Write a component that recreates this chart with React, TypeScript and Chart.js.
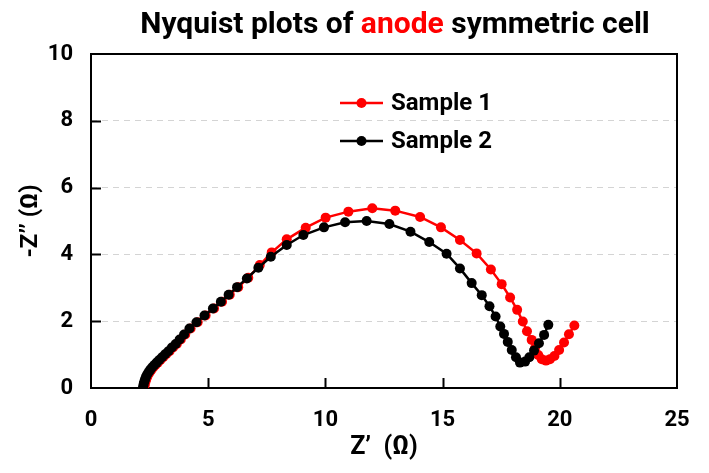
import React, { useEffect, useRef } from 'react';
import { Chart, registerables } from 'chart.js';

Chart.register(...registerables);

// Sample 1 (red): Z' and -Z'' in ohm
const sample1Re = [2.27, 2.28, 2.30, 2.33, 2.36, 2.40, 2.45, 2.51, 2.58, 2.66, 2.75, 2.85, 2.96, 3.08, 3.21, 3.35, 3.50, 3.66, 3.83, 4.02, 4.25, 4.55, 4.89, 5.25, 5.59, 5.92, 6.28, 6.71, 7.20, 7.71, 8.35, 9.16, 10.01, 10.98, 12.00, 12.98, 14.04, 14.93, 15.74, 16.45, 17.06, 17.52, 17.88, 18.18, 18.42, 18.60, 18.80, 18.94, 19.08, 19.23, 19.41, 19.58, 19.77, 19.97, 20.18, 20.39, 20.62];
const sample1Im = [0.00, 0.06, 0.13, 0.20, 0.27, 0.34, 0.41, 0.48, 0.55, 0.62, 0.69, 0.76, 0.84, 0.92, 1.01, 1.10, 1.21, 1.32, 1.45, 1.60, 1.78, 1.97, 2.17, 2.38, 2.58, 2.79, 3.02, 3.30, 3.68, 4.06, 4.45, 4.80, 5.10, 5.28, 5.38, 5.31, 5.12, 4.81, 4.43, 4.03, 3.55, 3.11, 2.71, 2.34, 1.99, 1.70, 1.44, 1.19, 0.99, 0.86, 0.82, 0.86, 0.96, 1.14, 1.36, 1.61, 1.87];

// Sample 2 (black)
const sample2Re = [2.22, 2.23, 2.25, 2.28, 2.31, 2.35, 2.40, 2.46, 2.53, 2.61, 2.70, 2.80, 2.91, 3.03, 3.16, 3.30, 3.45, 3.61, 3.78, 3.97, 4.20, 4.50, 4.84, 5.20, 5.54, 5.87, 6.23, 6.65, 7.14, 7.67, 8.35, 9.06, 9.94, 10.84, 11.76, 12.73, 13.63, 14.43, 15.17, 15.74, 16.24, 16.67, 17.00, 17.26, 17.46, 17.62, 17.78, 17.95, 18.13, 18.30, 18.52, 18.70, 18.90, 19.11, 19.33, 19.51];
const sample2Im = [0.00, 0.06, 0.13, 0.20, 0.27, 0.34, 0.41, 0.48, 0.55, 0.62, 0.69, 0.76, 0.84, 0.92, 1.01, 1.10, 1.21, 1.32, 1.45, 1.60, 1.78, 1.97, 2.17, 2.38, 2.58, 2.79, 3.02, 3.28, 3.60, 3.93, 4.28, 4.58, 4.81, 4.96, 5.00, 4.91, 4.68, 4.37, 4.02, 3.58, 3.14, 2.78, 2.45, 2.14, 1.84, 1.62, 1.38, 1.14, 0.92, 0.76, 0.79, 0.92, 1.12, 1.34, 1.59, 1.89];

const xTicks = [0, 5, 10, 15, 20, 25];
const yTicks = [0, 2, 4, 6, 8, 10];
const seriesNames = ['Sample 1', 'Sample 2'];
const seriesColors = ['#ff0000', '#000000'];
const titleParts = [
  { text: 'Nyquist plots of ', color: '#000000' },
  { text: 'anode', color: '#ff0000' },
  { text: ' symmetric cell', color: '#000000' },
];

const FONT = 'Roboto, "Liberation Sans", sans-serif';

const decorPlugin = {
  id: 'decor',
  beforeDatasetsDraw(chart: any) {
    const { ctx, chartArea: a, scales } = chart;
    ctx.save();
    ctx.strokeStyle = '#000';
    ctx.lineWidth = 2;
    ctx.strokeRect(a.left, a.top, a.right - a.left, a.bottom - a.top);
    ctx.beginPath();
    xTicks.slice(1, -1).forEach((v) => {
      const px = Math.round(scales.x.getPixelForValue(v)) + 0.5;
      ctx.moveTo(px, a.bottom);
      ctx.lineTo(px, a.bottom - 10);
    });
    yTicks.slice(1, -1).forEach((v) => {
      const py = Math.round(scales.y.getPixelForValue(v)) + 0.5;
      ctx.moveTo(a.left, py);
      ctx.lineTo(a.left + 10, py);
    });
    ctx.stroke();
    ctx.restore();
  },
  afterDraw(chart: any) {
    const { ctx } = chart;
    ctx.save();
    // title
    ctx.font = `bold 30px ${FONT}`;
    ctx.textBaseline = 'alphabetic';
    ctx.textAlign = 'left';
    const total = titleParts.reduce((s, p) => s + ctx.measureText(p.text).width, 0);
    let x = 395 - total / 2;
    titleParts.forEach((p) => {
      ctx.fillStyle = p.color;
      ctx.fillText(p.text, x, 33);
      x += ctx.measureText(p.text).width;
    });
    // legend
    const rows = [103, 141];
    ctx.textBaseline = 'middle';
    rows.forEach((y, i) => {
      ctx.strokeStyle = seriesColors[i];
      ctx.fillStyle = seriesColors[i];
      ctx.lineWidth = 2.5;
      ctx.beginPath();
      ctx.moveTo(340, y);
      ctx.lineTo(383, y);
      ctx.stroke();
      ctx.beginPath();
      ctx.arc(361.5, y, 5, 0, Math.PI * 2);
      ctx.fill();
      ctx.fillStyle = '#000';
      ctx.font = `bold 24px ${FONT}`;
      ctx.fillText(seriesNames[i], 391, y + 1);
    });
    ctx.restore();
  },
};

export default function App() {
  const ref = useRef<HTMLCanvasElement | null>(null);
  useEffect(() => {
    if (!ref.current) return;
    const mk = (re: number[], im: number[]) => re.map((v, i) => ({ x: v, y: im[i] }));
    const chart = new Chart(ref.current, {
      type: 'scatter',
      data: {
        datasets: [
          {
            label: seriesNames[0],
            data: mk(sample1Re, sample1Im),
            showLine: true,
            borderColor: seriesColors[0],
            backgroundColor: seriesColors[0],
            borderWidth: 2.5,
            pointRadius: 5,
            pointBorderWidth: 0,
            pointBackgroundColor: seriesColors[0],
            order: 2,
          },
          {
            label: seriesNames[1],
            data: mk(sample2Re, sample2Im),
            showLine: true,
            borderColor: seriesColors[1],
            backgroundColor: seriesColors[1],
            borderWidth: 2.5,
            pointRadius: 5,
            pointBorderWidth: 0,
            pointBackgroundColor: seriesColors[1],
            order: 1,
          },
        ],
      },
      options: {
        animation: false,
        responsive: true,
        maintainAspectRatio: false,
        layout: { padding: { top: 54, right: 32, left: 0, bottom: 0 } },
        plugins: { legend: { display: false }, title: { display: false }, tooltip: { enabled: false } },
        scales: {
          x: {
            type: 'linear',
            min: 0,
            max: 25,
            afterFit: (s: any) => { s.height = 85; },
            afterBuildTicks: (s: any) => { s.ticks = xTicks.map((v) => ({ value: v })); },
            ticks: { color: '#000', font: { family: FONT, size: 22, weight: 'bold' }, padding: 19, maxRotation: 0 },
            grid: { display: false, drawTicks: false },
            border: { display: false },
            title: { display: true, text: 'Z’  (Ω)', color: '#000', font: { family: FONT, size: 25, weight: 'bold' }, padding: { top: 0, bottom: 10 } },
          },
          y: {
            type: 'linear',
            min: 0,
            max: 10,
            afterFit: (s: any) => { s.width = 91; },
            afterBuildTicks: (s: any) => { s.ticks = yTicks.map((v) => ({ value: v })); },
            ticks: { color: '#000', font: { family: FONT, size: 22, weight: 'bold' }, padding: 18 },
            grid: {
              drawTicks: false,
              lineWidth: 1,
              color: (c: any) => (c.tick && (c.tick.value === 0 || c.tick.value === 10) ? 'rgba(0,0,0,0)' : '#d4d4d4'),
            },
            border: { display: false, dash: [6, 5] },
            title: { display: true, text: '-Z’’ (Ω)', color: '#000', font: { family: FONT, size: 24, weight: 'bold' }, padding: { top: 17, bottom: 0 } },
          },
        },
      },
      plugins: [decorPlugin],
    } as any);
    return () => chart.destroy();
  }, []);
  return (
    <div style={{ position: 'absolute', left: 0, top: 0, width: 709, height: 473, background: '#fff' }}>
      <canvas ref={ref} />
    </div>
  );
}
